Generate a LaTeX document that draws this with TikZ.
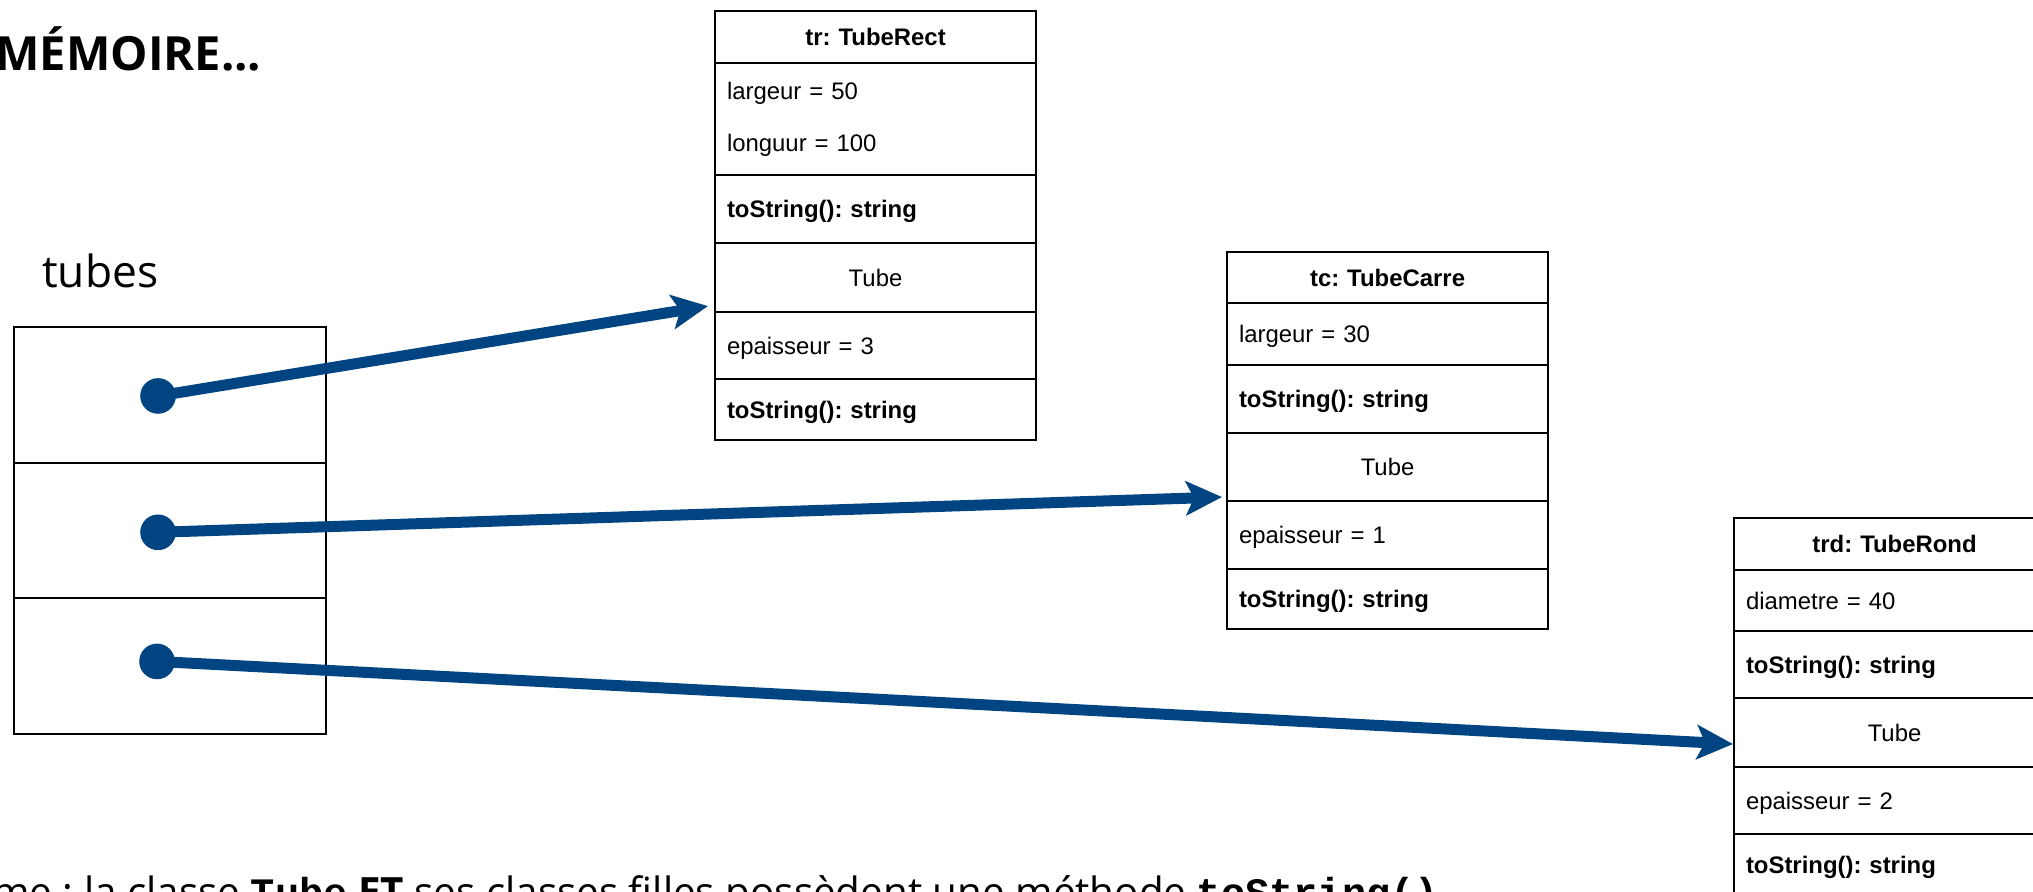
\documentclass[tikz,border=0pt]{standalone}
\usepackage{fontspec}
\setmainfont{Liberation Sans}
\newfontfamily\slidefont{Open Sans}
\newfontfamily\codefont{Liberation Mono}
\usetikzlibrary{positioning,calc,arrows.meta}
\definecolor{refblue}{RGB}{0,69,130}
\newcommand{\umlsize}{\fontsize{17}{20}\selectfont}
\frenchspacing

\begin{document}
\begin{tikzpicture}[x=0.025cm, y=-0.025cm,
  umlrow/.style={draw, line width=1.2pt, outer sep=0pt, minimum width=8.025cm,
    inner xsep=0.3cm, inner ysep=0pt, text width=7.425cm, align=left,
    text height=12.2pt, text depth=0pt, font=\umlsize},
  umlhead/.style={umlrow, align=center, font=\umlsize\bfseries},
  umlattr/.style={umlrow},
  umlmeth/.style={umlrow, font=\umlsize\bfseries},
  umlbase/.style={umlrow, align=center},
  slot/.style={draw, line width=1.4pt, outer sep=0pt, minimum width=7.8cm, minimum height=3.3875cm},
  refdot/.style={circle, fill=refblue, minimum size=0.89cm, inner sep=0pt},
  refarrow/.style={draw=refblue, line width=0.275cm,
    -{Stealth[length=0.9cm, width=0.85cm, inset=0.2cm]}}]
  \path[use as bounding box, clip] (0,0) rectangle (2033,892);
  \fill[white] (0,0) rectangle (2033,892);

  %%% texts of the slide %%%
  \node[anchor=base west, inner sep=0pt, font=\slidefont\bfseries\fontsize{33.5}{38}\selectfont] (title) at (-5,71) {MÉMOIRE...};
  \node[anchor=base west, inner sep=0pt, font=\slidefont\fontsize{31.5}{36}\selectfont] (tubes) at (42,288) {tubes};
  \node[anchor=base west, inner sep=0pt, font=\slidefont\fontsize{28.7}{33}\selectfont] (note) at (-8,906)
    {me : la classe {\codefont\bfseries Tube} \textbf{ET} ses classes filles possèdent une méthode {\codefont\bfseries toString()}};

  %%% array tubes %%%
  \node[slot, anchor=north west] (slot1) at (14,327) {};
  \node[slot, below=0pt of slot1] (slot2) {};
  \node[slot, below=0pt of slot2] (slot3) {};
  % references
  \node[refdot] (d1) at ([xshift=-0.3cm, yshift=-0.03cm]slot1.center) {};
  \node[refdot] (d2) at ([xshift=-0.3cm, yshift=-0.05cm]slot2.center) {};
  \node[refdot] (d3) at ([xshift=-0.325cm, yshift=0.11cm]slot3.center) {};

  %%% object tr %%%
  \node[umlhead, minimum height=1.3cm, anchor=north west] (trHead) at (715,11) {tr: TubeRect};
  \node[umlattr, minimum height=2.8cm, text height=, text depth=, font=\fontsize{17}{37}\selectfont, below=0pt of trHead] (trAttr) {largeur = 50\\longuur = 100};
  \node[umlmeth, minimum height=1.7cm, below=0pt of trAttr] (trMeth) {toString(): string};
  \node[umlbase, minimum height=1.725cm, below=0pt of trMeth] (trTube) {Tube};
  \node[umlattr, minimum height=1.675cm, below=0pt of trTube] (trEp) {epaisseur = 3};
  \node[umlmeth, minimum height=1.525cm, below=0pt of trEp] (trTo) {toString(): string};

  %%% object tc %%%
  \node[umlhead, minimum height=1.275cm, anchor=north west] (tcHead) at (1227,252) {tc: TubeCarre};
  \node[umlattr, minimum height=1.55cm, below=0pt of tcHead] (tcAttr) {largeur = 30};
  \node[umlmeth, minimum height=1.7cm, below=0pt of tcAttr] (tcMeth) {toString(): string};
  \node[umlbase, minimum height=1.7cm, below=0pt of tcMeth] (tcTube) {Tube};
  \node[umlattr, minimum height=1.7cm, below=0pt of tcTube] (tcEp) {epaisseur = 1};
  \node[umlmeth, minimum height=1.5cm, below=0pt of tcEp] (tcTo) {toString(): string};

  %%% object trd %%%
  \node[umlhead, minimum height=1.3cm, anchor=north west] (trdHead) at (1734,518) {trd: TubeRond};
  \node[umlattr, minimum height=1.525cm, below=0pt of trdHead] (trdAttr) {diametre = 40};
  \node[umlmeth, minimum height=1.675cm, below=0pt of trdAttr] (trdMeth) {toString(): string};
  \node[umlbase, minimum height=1.725cm, below=0pt of trdMeth] (trdTube) {Tube};
  \node[umlattr, minimum height=1.675cm, below=0pt of trdTube] (trdEp) {epaisseur = 2};
  \node[umlmeth, minimum height=1.525cm, below=0pt of trdEp] (trdTo) {toString(): string};

  %%% references to the objects %%%
  \draw[refarrow] (d1.center) -- ($(trTube.south west)+(-7,-6)$);
  \draw[refarrow] (d2.center) -- ($(tcTube.south west)+(-5,-4)$);
  \draw[refarrow] (d3.center) -- ($(trdTube.west)+(-1,11.5)$);
\end{tikzpicture}
\end{document}
